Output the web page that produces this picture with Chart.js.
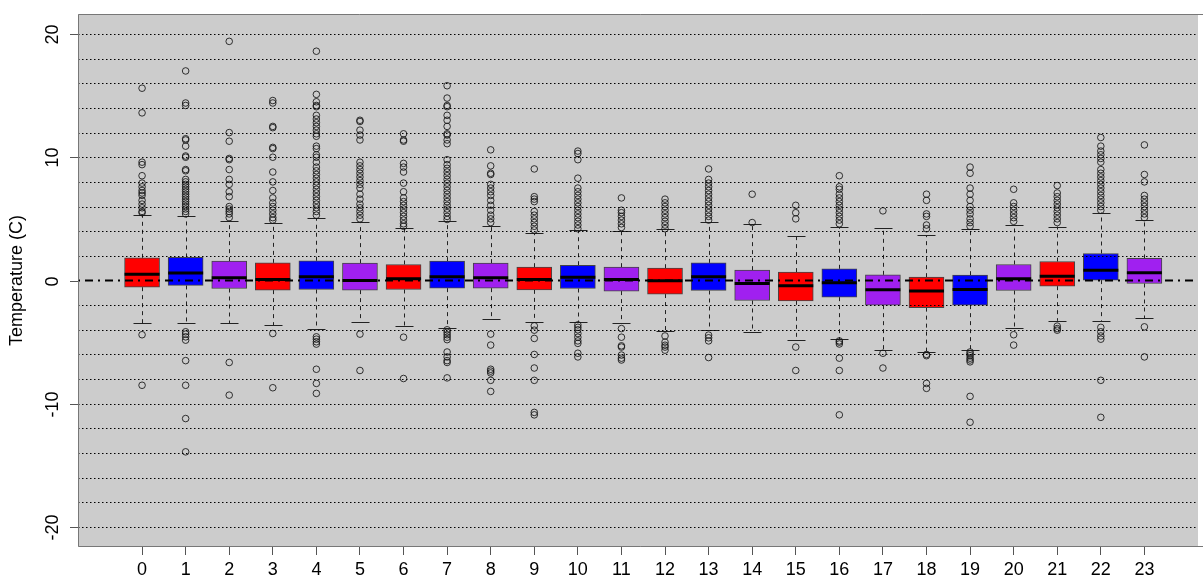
<!DOCTYPE html>
<html>
<head>
<meta charset="utf-8">
<script src="https://cdn.jsdelivr.net/npm/chart.js@4.4.0/dist/chart.umd.min.js"></script>
<style>
html, body { margin: 0; padding: 0; background: #fff; overflow: hidden; }
</style>
</head>
<body>
<canvas id="tempChart" width="1203" height="576"></canvas>
<script>
// hourly temperature boxplots (0..23)
var hours = ['0','1','2','3','4','5','6','7','8','9','10','11','12','13','14','15','16','17','18','19','20','21','22','23'];
var boxColors = ['#ff0000','#0000ff','#a020f0','#ff0000','#0000ff','#a020f0','#ff0000','#0000ff','#a020f0','#ff0000','#0000ff','#a020f0',
                 '#ff0000','#0000ff','#a020f0','#ff0000','#0000ff','#a020f0','#ff0000','#0000ff','#a020f0','#ff0000','#0000ff','#a020f0'];

var q1      = [-0.54,-0.40,-0.65,-0.78,-0.73,-0.78,-0.73,-0.62,-0.62,-0.76,-0.65,-0.86,-1.10,-0.81,-1.62,-1.65,-1.35,-2.00,-2.20,-2.00,-0.81,-0.46, 0.03,-0.24];
var medians = [ 0.51, 0.60, 0.22, 0.08, 0.30, 0.00, 0.14, 0.30, 0.22, 0.08, 0.27, 0.08,-0.03, 0.30,-0.24,-0.43,-0.19,-0.76,-0.86,-0.73, 0.14, 0.35, 0.84, 0.62];
var q3      = [ 1.84, 1.87, 1.57, 1.43, 1.60, 1.41, 1.30, 1.57, 1.41, 1.08, 1.24, 1.08, 1.00, 1.43, 0.84, 0.68, 0.95, 0.46, 0.27, 0.43, 1.30, 1.54, 2.19, 1.79];
var whiskHi = [ 5.35, 5.24, 4.86, 4.70, 5.08, 4.76, 4.27, 4.84, 4.40, 3.84, 4.10, 4.03, 4.14, 4.73, 4.57, 3.57, 4.32, 4.22, 3.68, 4.19, 4.49, 4.38, 5.51, 4.89];
var whiskLo = [-3.46,-3.46,-3.46,-3.62,-3.95,-3.40,-3.70,-3.84,-3.13,-3.35,-3.35,-3.43,-4.10,-4.03,-4.20,-4.80,-4.76,-5.60,-5.80,-5.65,-3.84,-3.27,-3.27,-3.08];

var outliers = [
  [15.6,13.6,9.6,9.4,8.5,7.9,7.6,7.3,7.1,6.9,6.5,6.2,5.9,5.6,5.5,-4.4,-8.5],
  [17.0,14.4,14.2,11.5,11.4,10.9,10.1,10.0,9.0,8.9,8.2,8.0,7.8,7.6,7.4,7.2,7.0,6.8,6.6,6.4,6.2,6.0,5.8,5.6,5.4,-4.16,-4.35,-4.57,-4.84,-6.5,-8.5,-11.2,-13.9],
  [19.4,12.0,11.3,9.9,9.8,9.0,8.2,7.8,7.2,6.8,6.0,5.8,5.6,5.4,5.1,-6.65,-9.3],
  [14.6,14.4,12.5,12.4,10.8,10.7,10.0,8.8,8.0,7.3,6.7,6.3,6.0,5.7,5.4,5.1,4.9,-4.3,-8.7],
  [18.6,15.1,14.5,14.2,14.1,13.4,13.1,12.8,12.5,12.2,11.9,11.7,10.9,10.7,10.2,10.0,9.6,9.2,8.9,8.6,8.3,8.0,7.7,7.4,7.1,6.8,6.5,6.2,5.9,5.6,5.3,-4.57,-4.76,-4.97,-5.16,-7.2,-8.35,-9.16],
  [13.0,12.9,12.2,11.8,11.4,9.6,9.3,9.0,8.7,8.4,8.1,7.8,7.5,7.0,6.6,6.2,5.9,5.6,5.3,5.0,-4.35,-7.3],
  [11.9,11.4,11.3,9.5,9.2,8.8,7.9,7.2,6.7,6.4,6.1,5.8,5.5,5.2,4.9,4.6,4.4,-4.6,-7.95],
  [15.8,14.8,14.2,14.1,13.4,13.0,12.5,11.9,11.8,11.4,11.1,9.8,9.4,9.1,8.8,8.5,8.2,7.9,7.6,7.3,7.0,6.7,6.4,6.1,5.8,5.5,5.2,4.95,-4.0,-4.2,-4.4,-4.6,-4.8,-5.8,-6.2,-6.5,-6.65,-7.9],
  [10.6,9.3,8.7,8.6,7.8,7.5,7.2,6.9,6.5,6.1,5.7,5.3,5.0,4.7,-4.35,-5.24,-7.2,-7.35,-7.5,-8.1,-9.0],
  [9.05,6.8,6.6,6.4,5.6,5.3,5.0,4.7,4.4,4.1,-3.68,-4.03,-4.7,-6.0,-7.1,-8.1,-10.7,-10.9],
  [10.5,10.3,9.8,8.3,7.5,7.2,6.9,6.6,6.3,6.0,5.7,5.4,5.1,4.8,4.5,4.2,-3.6,-3.8,-4.0,-4.3,-4.6,-4.9,-5.1,-5.9,-6.2],
  [6.7,5.7,5.5,5.2,4.9,4.6,4.3,-3.9,-4.6,-5.3,-5.4,-6.05,-6.3,-6.45],
  [6.6,6.3,6.0,5.7,5.4,5.1,4.8,4.5,4.2,-4.5,-5.0,-5.25,-5.4,-5.65],
  [9.05,8.2,7.9,7.6,7.3,7.0,6.7,6.4,6.1,5.8,5.5,5.2,4.9,-4.43,-4.65,-4.9,-6.25],
  [7.0,4.7],
  [6.1,5.5,5.0,-5.4,-7.3],
  [8.5,7.6,7.4,7.0,6.7,6.4,6.1,5.8,5.5,5.2,4.9,4.6,-4.9,-5.0,-5.15,-6.3,-7.3,-10.9],
  [5.65,-5.9,-7.1],
  [7.0,6.5,5.4,5.2,4.5,4.2,-6.0,-6.1,-8.35,-8.75],
  [9.2,8.7,7.5,7.0,6.5,6.0,5.7,5.4,5.0,4.7,4.4,-5.8,-5.95,-6.1,-6.3,-6.45,-6.6,-9.4,-11.5],
  [7.4,6.3,6.0,5.7,5.4,5.1,4.8,-4.4,-5.24],
  [7.7,7.1,6.8,6.5,6.2,5.9,5.6,5.3,5.0,4.7,-3.7,-3.9,-4.03],
  [11.6,10.9,10.5,10.2,9.9,9.6,9.0,8.7,8.4,8.1,7.8,7.5,7.2,6.9,6.6,6.3,6.0,5.7,-3.8,-4.16,-4.5,-4.76,-8.1,-11.1],
  [11.0,8.6,8.0,6.9,6.6,6.3,6.0,5.7,5.4,5.1,-3.76,-6.2]
];

var yTickValues = [-20, -10, 0, 10, 20];
var yGridValues = [-20,-18,-16,-14,-12,-10,-8,-6,-4,-2,0,2,4,6,8,10,12,14,16,18,20];
var yTitle = 'Temperature (C)';

var FONT = "'Liberation Sans', Arial, sans-serif";
var BOX_W = 35;

var boxData = hours.map(function(h, i) { return { x: i, y: [q1[i], q3[i]] }; });
var outlierData = [];
outliers.forEach(function(list, i) {
    list.forEach(function(v) { outlierData.push({ x: i, y: v }); });
});

var boxExtras = {
    id: 'boxExtras',
    beforeDatasetsDraw: function(chart) {
        var ctx = chart.ctx, a = chart.chartArea;
        var xs = chart.scales.x, ys = chart.scales.y;
        ctx.save();
        ctx.fillStyle = '#cccccc';
        ctx.fillRect(a.left, a.top, a.right - a.left, a.bottom - a.top);

        // whiskers and staples
        ctx.strokeStyle = '#222';
        ctx.lineWidth = 1;
        for (var i = 0; i < hours.length; i++) {
            var x = Math.round(xs.getPixelForValue(i)) + 0.5;
            ctx.setLineDash([4, 4]);
            ctx.beginPath();
            ctx.moveTo(x, ys.getPixelForValue(q3[i]));
            ctx.lineTo(x, ys.getPixelForValue(whiskHi[i]));
            ctx.moveTo(x, ys.getPixelForValue(q1[i]));
            ctx.lineTo(x, ys.getPixelForValue(whiskLo[i]));
            ctx.stroke();
            ctx.setLineDash([]);
            ctx.beginPath();
            var yh = Math.round(ys.getPixelForValue(whiskHi[i])) + 0.5;
            var yl = Math.round(ys.getPixelForValue(whiskLo[i])) + 0.5;
            ctx.moveTo(x - 9, yh); ctx.lineTo(x + 9, yh);
            ctx.moveTo(x - 9, yl); ctx.lineTo(x + 9, yl);
            ctx.stroke();
        }
        ctx.restore();
    },
    afterDatasetsDraw: function(chart) {
        var ctx = chart.ctx, a = chart.chartArea;
        var xs = chart.scales.x, ys = chart.scales.y;
        ctx.save();

        // medians
        ctx.strokeStyle = '#000';
        ctx.lineWidth = 3;
        ctx.beginPath();
        for (var i = 0; i < hours.length; i++) {
            var x = xs.getPixelForValue(i);
            var y = ys.getPixelForValue(medians[i]);
            ctx.moveTo(x - BOX_W / 2, y);
            ctx.lineTo(x + BOX_W / 2, y);
        }
        ctx.stroke();

        // dotted grid on top
        ctx.lineWidth = 1;
        ctx.strokeStyle = '#000';
        ctx.setLineDash([1.5, 2.5]);
        ctx.beginPath();
        yGridValues.forEach(function(v) {
            if (v === 0) return;
            var y = Math.round(ys.getPixelForValue(v)) + 0.5;
            ctx.moveTo(a.left, y);
            ctx.lineTo(a.right, y);
        });
        ctx.stroke();

        // zero line, dot-dash
        ctx.lineWidth = 2;
        ctx.setLineDash([2, 5, 8, 5]);
        ctx.beginPath();
        var y0 = ys.getPixelForValue(0);
        ctx.moveTo(a.left, y0);
        ctx.lineTo(a.right, y0);
        ctx.stroke();
        ctx.setLineDash([]);

        // plot frame (left, top, bottom)
        ctx.strokeStyle = '#777';
        ctx.lineWidth = 1;
        ctx.beginPath();
        ctx.moveTo(a.right + 5, a.top + 0.5);
        ctx.lineTo(a.left + 0.5, a.top + 0.5);
        ctx.lineTo(a.left + 0.5, a.bottom - 0.5);
        ctx.lineTo(a.right + 5, a.bottom - 0.5);
        ctx.stroke();

        // y ticks and rotated labels
        ctx.strokeStyle = '#555';
        ctx.fillStyle = '#000';
        ctx.font = '18px ' + FONT;
        ctx.textAlign = 'center';
        ctx.textBaseline = 'middle';
        yTickValues.forEach(function(v) {
            var y = Math.round(ys.getPixelForValue(v)) + 0.5;
            ctx.beginPath();
            ctx.moveTo(a.left - 8, y);
            ctx.lineTo(a.left, y);
            ctx.stroke();
            ctx.save();
            ctx.translate(53, y);
            ctx.rotate(-Math.PI / 2);
            ctx.fillText(String(v), 0, 0);
            ctx.restore();
        });
        ctx.restore();
    }
};

var ctx = document.getElementById('tempChart').getContext('2d');
var tempChart = new Chart(ctx, {
    type: 'bar',
    data: {
        datasets: [
            {
                type: 'bar',
                data: boxData,
                backgroundColor: boxColors,
                borderColor: '#444',
                borderWidth: 1,
                borderSkipped: false,
                barThickness: BOX_W
            },
            {
                type: 'scatter',
                data: outlierData,
                showLine: false,
                pointStyle: 'circle',
                pointRadius: 3.3,
                pointBorderWidth: 1,
                pointBorderColor: 'rgba(20,20,20,0.85)',
                pointBackgroundColor: 'rgba(0,0,0,0)'
            }
        ]
    },
    options: {
        responsive: false,
        devicePixelRatio: 1,
        animation: false,
        layout: { padding: { top: 14, right: 0, left: 0, bottom: 0 } },
        plugins: { legend: { display: false }, tooltip: { enabled: false } },
        scales: {
            x: {
                type: 'linear',
                offset: false,
                min: -1.47,
                max: 24.23,
                afterBuildTicks: function(scale) {
                    scale.ticks = hours.map(function(h, i) { return { value: i }; });
                },
                afterFit: function(scale) { scale.height = 29; },
                grid: { display: true, offset: false, drawOnChartArea: false, drawTicks: true, tickLength: 8, tickColor: '#555' },
                border: { display: false },
                ticks: {
                    autoSkip: false,
                    maxRotation: 0,
                    padding: 4,
                    color: '#000',
                    font: { family: FONT, size: 18 },
                    callback: function(v) { return hours[v]; }
                }
            },
            y: {
                type: 'linear',
                min: -21.62,
                max: 21.62,
                afterFit: function(scale) { scale.width = 78; },
                grid: { display: false },
                border: { display: false },
                ticks: { display: false },
                title: {
                    display: true,
                    text: yTitle,
                    color: '#000',
                    font: { family: FONT, size: 18 },
                    padding: { top: 6, bottom: 0 }
                }
            }
        }
    },
    plugins: [boxExtras]
});
</script>
</body>
</html>
